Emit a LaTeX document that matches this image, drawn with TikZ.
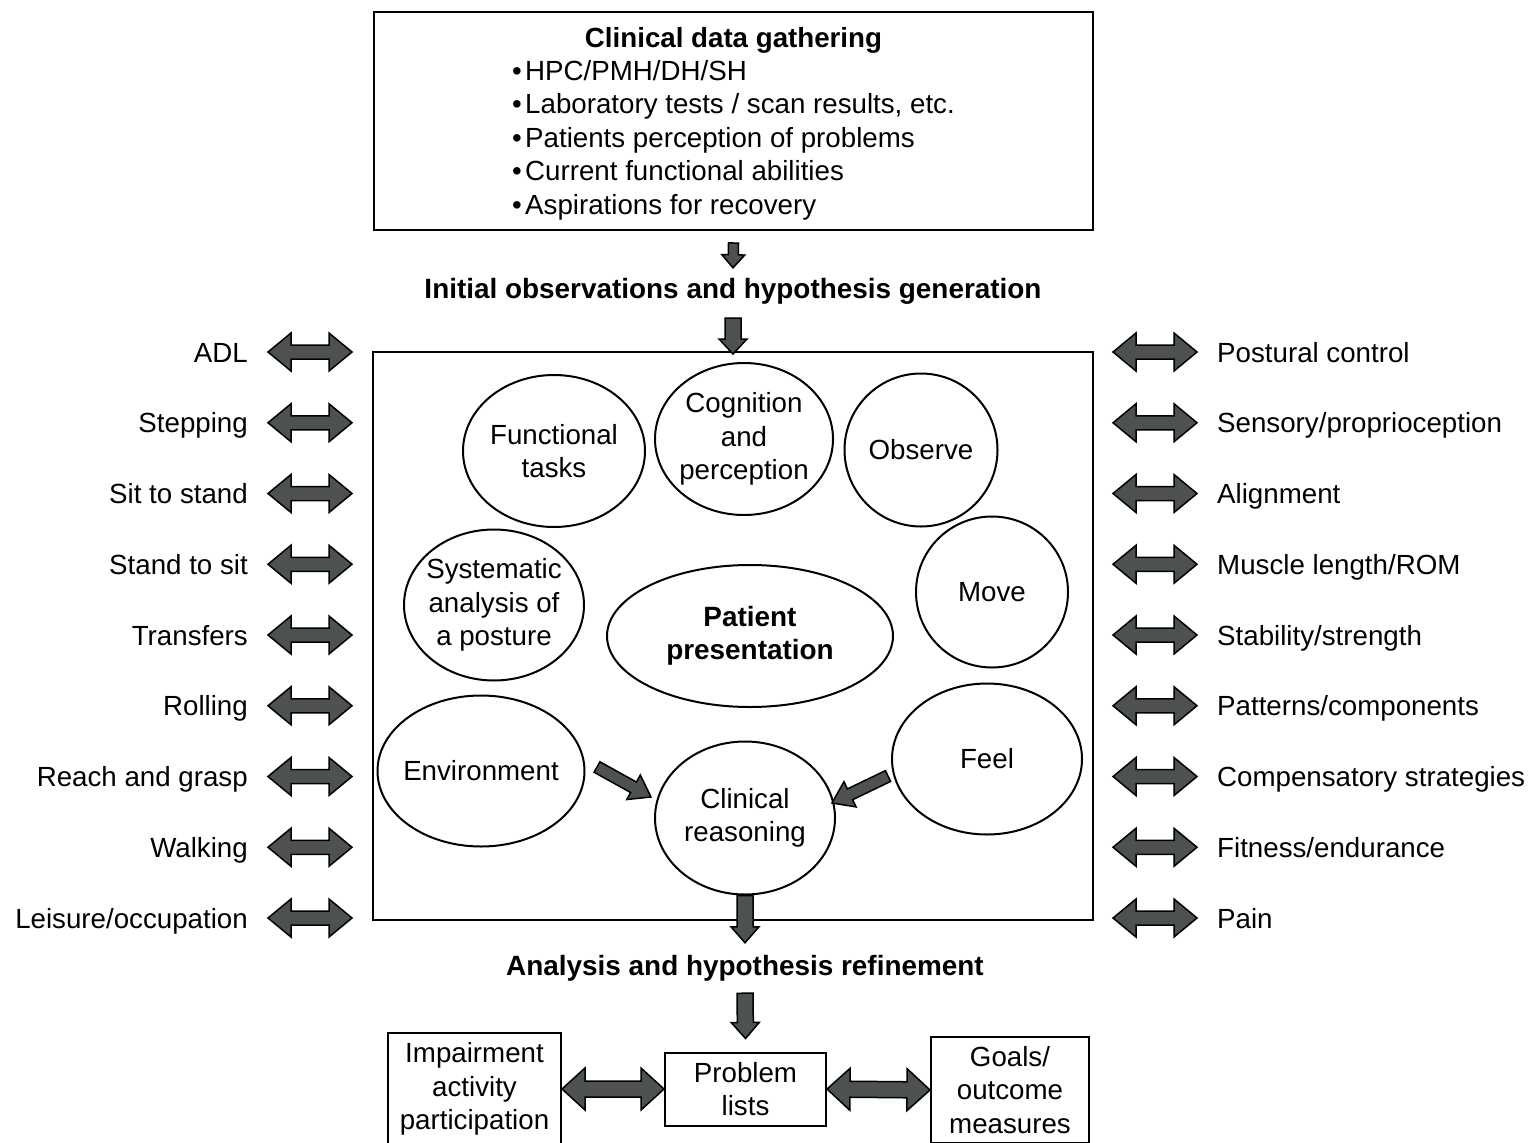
\documentclass[tikz,border=0pt]{standalone}
\usepackage{fontspec}
\setmainfont{Liberation Sans}
\usetikzlibrary{shapes.geometric,calc}
\definecolor{arrowfill}{RGB}{78,82,78}
\begin{document}
\begin{tikzpicture}[x=1pt,y=-1pt,
  every node/.style={font=\fontsize{27.7}{33.5}\selectfont, text=black},
  box/.style={draw, line width=2pt, inner sep=0pt, align=center},
  bubble/.style={ellipse, draw, line width=2pt, inner sep=-30pt, align=center},
  sidelabel/.style={inner sep=0pt, text height=20pt, text depth=0pt},
  heading/.style={inner sep=0pt, text height=20pt, text depth=6pt,
    font=\fontsize{27.9}{33.5}\selectfont\bfseries},
  fatline/.style={draw=black, fill=arrowfill, line width=1.5pt, line join=miter},
  % block arrow with a head at both ends: #1 head length, #2 head half-width, #3 shaft half-width
  twohead/.style n args={3}{fatline, to path={
    let \p1=(\tikztostart), \p2=(\tikztotarget) in
    (\p1) -- ($(\p1)!#1!(\p2)!#2!90:(\p2)$) -- ($(\p1)!#1!(\p2)!#3!90:(\p2)$)
    -- ($(\p2)!#1!(\p1)!#3!270:(\p1)$) -- ($(\p2)!#1!(\p1)!#2!270:(\p1)$)
    -- (\p2)
    -- ($(\p2)!#1!(\p1)!#2!90:(\p1)$) -- ($(\p2)!#1!(\p1)!#3!90:(\p1)$)
    -- ($(\p1)!#1!(\p2)!#3!270:(\p2)$) -- ($(\p1)!#1!(\p2)!#2!270:(\p2)$)
    -- cycle}},
  % block arrow with a single head at the target
  onehead/.style n args={3}{fatline, to path={
    let \p1=(\tikztostart), \p2=(\tikztotarget) in
    ($(\p1)!#3!90:(\p2)$) -- ($(\p2)!#1!(\p1)!#3!270:(\p1)$)
    -- ($(\p2)!#1!(\p1)!#2!270:(\p1)$) -- (\p2)
    -- ($(\p2)!#1!(\p1)!#2!90:(\p1)$) -- ($(\p2)!#1!(\p1)!#3!90:(\p1)$)
    -- ($(\p1)!#3!270:(\p2)$) -- cycle}}
]
\useasboundingbox (0,0) rectangle (1534,1143);

% data gathering box
\node[box, minimum width=719pt, minimum height=218pt] (data) at (733.5,121)
  {\raisebox{-3.5pt}[\height][\depth]{\begin{tabular}{@{}l@{}}
   \multicolumn{1}{@{}c@{}}{\bfseries Clinical data gathering}\\[-1pt]
   •\hspace{0.12em}HPC/PMH/DH/SH\\
   •\hspace{0.12em}Laboratory tests / scan results, etc.\\
   •\hspace{0.12em}Patients perception of problems\\
   •\hspace{0.12em}Current functional abilities\\
   •\hspace{0.12em}Aspirations for recovery
   \end{tabular}}};

\node[heading] (init) at (733,291) {Initial observations and hypothesis generation};

% assessment frame
\node[box, minimum width=720pt, minimum height=568pt] (main) at (733,636) {};

\node[bubble, minimum width=182pt, minimum height=152pt] (func) at (554,451) {Functional\\tasks};
\node[bubble, minimum width=178pt, minimum height=152pt] (cog) at (744,439) {Cognition\\and\\perception};
\node[bubble, minimum width=153pt, minimum height=153pt] (obs) at (921,450) {Observe};
\node[bubble, minimum width=180pt, minimum height=151pt] (sys) at (494,605) {Systematic\\analysis of\\a posture};
\node[bubble, minimum width=286pt, minimum height=142pt,
  font=\fontsize{27.9}{33.5}\selectfont\bfseries] (pat) at (750,636) {Patient\\presentation};
\node[bubble, minimum width=152pt, minimum height=151pt] (move) at (992,592) {Move};
\node[bubble, minimum width=207pt, minimum height=151pt] (env) at (481,771) {Environment};
\node[bubble, minimum width=180pt, minimum height=153pt] (reason) at (745,818) {Clinical\\reasoning};
\node[bubble, minimum width=190pt, minimum height=151pt] (feel) at (987,759) {Feel};

\coordinate (envout) at (597,767);
\coordinate (envin) at (651,797);
\coordinate (feelout) at (888,776);
\coordinate (feelin) at (832,803);
\draw[onehead={20pt}{14pt}{6pt}] (envout) to (envin);
\draw[onehead={20pt}{14pt}{6pt}] (feelout) to (feelin);

% activities on the left, impairments on the right
\foreach \txt [count=\i] in {ADL, Stepping, Sit to stand, Stand to sit, Transfers,
    Rolling, Reach and grasp, Walking, {Leisure/occupation}}{
  \node[sidelabel, anchor=east] (L\i) at (248, {352+(\i-1)*70.75}) {\txt};
  \coordinate (la\i) at ([xshift=-20pt]main.west |- L\i.east);
  \draw[twohead={23pt}{19pt}{7pt}] ([xshift=20pt]L\i.east) to (la\i);
}
\foreach \txt [count=\i] in {Postural control, {Sensory/proprioception}, Alignment,
    {Muscle length/ROM}, {Stability/strength}, {Patterns/components},
    Compensatory strategies, {Fitness/endurance}, Pain}{
  \node[sidelabel, anchor=west] (R\i) at (1217, {352+(\i-1)*70.75}) {\txt};
  \coordinate (ra\i) at ([xshift=19pt]main.east |- R\i.west);
  \draw[twohead={23pt}{19pt}{7pt}] (ra\i) to ([xshift=-20pt]R\i.west);
}

\node[heading] (refine) at (745,968) {Analysis and hypothesis refinement};

% outcome boxes
\node[box, minimum width=173pt, minimum height=112pt] (imp) at (474.5,1089) {Impairment\\activity\\participation};
\node[box, minimum width=161pt, minimum height=73pt] (pl) at (745.5,1089) {Problem\\lists};
\node[box, minimum width=158pt, minimum height=106pt] (goal) at (1010,1090) {Goals/\\outcome\\measures};

% flow arrows
\draw[onehead={13pt}{11.5pt}{5pt}] ([yshift=-12pt]data.south) to ([yshift=10pt]init.north);
\draw[onehead={15pt}{14pt}{8pt}] ([yshift=-14pt]init.south) to ([yshift=-3pt]main.north);
\draw[onehead={16pt}{14pt}{8pt}] (reason.south) to ([yshift=12pt]refine.north);
\draw[onehead={16pt}{14pt}{8pt}] ([yshift=-12pt]refine.south) to ([yshift=13pt]pl.north);
\draw[twohead={23pt}{21pt}{8pt}] (imp.east) to (pl.west);
\draw[twohead={23pt}{21pt}{8pt}] (pl.east) to (goal.west);
\end{tikzpicture}
\end{document}
